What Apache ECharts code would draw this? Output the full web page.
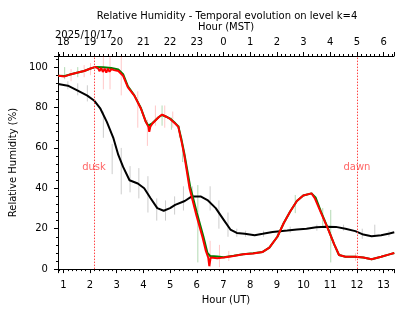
<!DOCTYPE html>
<html>
<head>
<meta charset="utf-8">
<script src="https://cdn.jsdelivr.net/npm/echarts@6/dist/echarts.min.js"></script>
<style>
  html, body { margin: 0; padding: 0; background: #fff; }
  #chart { width: 397px; height: 310px; }
</style>
</head>
<body>
<div id="chart"></div>
<script>
// hour (UT) -> MST tick labels for the top axis (UT 1..13)
var mstLabels = ['18', '19', '20', '21', '22', '23', '0', '1', '2', '3', '4', '5', '6']
var dateLabel = '2025/10/17'
var duskHour = 2.15
var dawnHour = 12.0

// black curve [hour UT, RH %]
var blackPts = [
  [0.81, 91.6], [1.17, 90.8], [1.54, 88.4], [1.9, 85.9], [2.15, 83.5], [2.39, 79.4],
  [2.63, 72.9], [2.88, 64.7], [3.06, 56.5], [3.24, 50.6], [3.48, 44.0], [3.79, 42.4],
  [4.03, 40.0], [4.27, 35.1], [4.52, 30.2], [4.76, 28.9], [5.0, 30.2], [5.19, 31.8],
  [5.55, 33.7], [5.8, 35.9], [6.16, 35.9], [6.4, 34.2], [6.71, 30.2], [7.01, 24.4],
  [7.26, 19.6], [7.5, 17.9], [7.8, 17.5], [8.17, 16.8], [8.47, 17.5], [8.84, 18.4],
  [9.39, 19.1], [9.75, 19.6], [10.11, 20.0], [10.48, 20.7], [10.84, 21.0], [11.21, 20.9],
  [11.57, 20.0], [11.94, 18.8], [12.24, 17.1], [12.55, 16.3], [12.91, 16.8], [13.22, 17.6],
  [13.4, 18.2]
]
// green curve
var greenPts = [
  [0.81, 95.7], [1.05, 95.6], [1.29, 96.5], [1.54, 97.3], [1.78, 98.1], [2.02, 99.3],
  [2.2, 100.0], [2.5, 99.9], [2.8, 99.6], [3.06, 98.8], [3.24, 96.5], [3.42, 90.5],
  [3.66, 86.0], [3.91, 79.6], [4.09, 73.0], [4.19, 71.0], [4.34, 72.3], [4.58, 75.3],
  [4.7, 76.3], [4.88, 75.3], [5.0, 74.5], [5.19, 72.3], [5.31, 70.6], [5.43, 64.0],
  [5.53, 57.5], [5.75, 41.0], [6.0, 28.0], [6.25, 16.0], [6.4, 8.0], [6.5, 6.5],
  [6.77, 6.2], [7.01, 5.9], [7.38, 6.6], [7.74, 7.3], [8.11, 7.8], [8.47, 8.5],
  [8.72, 10.6], [9.02, 16.0], [9.26, 22.8], [9.5, 28.5], [9.75, 33.7], [9.99, 36.4],
  [10.3, 37.5], [10.45, 35.5], [10.66, 28.2], [10.9, 20.6], [11.15, 12.2], [11.33, 7.0],
  [11.57, 6.1], [11.94, 6.1], [12.24, 5.7], [12.55, 4.9], [12.91, 6.1], [13.22, 7.3],
  [13.4, 8.0]
]
// red curve
var redPts = [
  [0.81, 95.7], [1.05, 95.4], [1.29, 96.5], [1.54, 97.3], [1.78, 98.1], [2.02, 99.3],
  [2.2, 100.1], [2.3, 99.4], [2.36, 98.0], [2.42, 99.6], [2.48, 97.6], [2.55, 99.2],
  [2.61, 97.3], [2.67, 99.3], [2.73, 97.7], [2.8, 99.0], [2.9, 98.5], [3.06, 98.1],
  [3.24, 95.7], [3.42, 90.0], [3.66, 85.9], [3.91, 79.4], [4.09, 72.9], [4.19, 70.4],
  [4.22, 68.0], [4.26, 70.5], [4.34, 72.1], [4.58, 75.3], [4.7, 76.5], [4.88, 75.3],
  [5.0, 74.3], [5.19, 72.1], [5.31, 70.4], [5.43, 63.1], [5.53, 56.6], [5.73, 40.0],
  [5.98, 26.9], [6.22, 15.5], [6.34, 9.0], [6.43, 5.7], [6.47, 1.5], [6.52, 5.7],
  [6.77, 5.4], [7.01, 5.7], [7.38, 6.5], [7.74, 7.3], [8.11, 7.7], [8.47, 8.5],
  [8.72, 10.6], [9.02, 16.0], [9.26, 22.8], [9.5, 28.5], [9.75, 33.7], [9.99, 36.4],
  [10.3, 37.5], [10.42, 35.1], [10.66, 27.7], [10.9, 20.4], [11.15, 12.2], [11.33, 7.0],
  [11.57, 6.1], [11.94, 6.1], [12.24, 5.7], [12.55, 4.9], [12.91, 6.1], [13.22, 7.3],
  [13.4, 8.0]
]
// error bars [hour, low, high]
var greyBars = [
  [1.17, 89, 93], [1.54, 86, 92], [1.9, 83, 91], [2.5, 65, 78], [2.83, 47, 62],
  [3.17, 37, 60], [3.5, 38, 51], [3.83, 35, 50], [4.17, 28, 46], [4.5, 24, 35],
  [4.83, 24, 34], [5.17, 27, 36], [5.5, 29, 41], [5.83, 34, 41], [6.5, 29, 41],
  [6.83, 20, 34], [7.17, 16, 28], [7.5, 16, 20], [7.83, 16, 19], [8.5, 16, 19],
  [9.5, 18, 21], [10.5, 19, 22], [11.5, 19, 22], [12.2, 15, 20], [12.67, 16, 22],
  [13.2, 16, 19]
]
var redBars = [
  [1.29, 93, 99], [1.78, 95, 101], [2.02, 96, 102], [2.5, 89, 106], [2.75, 89, 106],
  [3.17, 86, 106], [3.79, 70, 88], [4.15, 61, 74], [4.45, 71, 81], [4.8, 70, 81],
  [5.1, 70, 78], [6.5, 1, 14], [6.85, 1, 12], [7.2, 4, 9], [11.95, 4, 8]
]
var greenBars = [
  [1.05, 94, 100], [1.54, 95, 100], [4.7, 71, 81], [5.05, 69, 75], [5.35, 65, 71],
  [5.47, 53, 60], [6.04, 3.3, 41.6], [9.69, 27.7, 36.7], [10.72, 20.4, 30.2], [11.02, 3.3, 29.3]
]

var font = 'DejaVu Sans'

function errBars(data, color) {
  return {
    type: 'custom',
    clip: true,
    silent: true,
    data: data,
    encode: { x: 0, y: [1, 2] },
    renderItem: function(params, api) {
      var a = api.coord([api.value(0), api.value(1)])
      var b = api.coord([api.value(0), api.value(2)])
      return {
        type: 'line',
        shape: { x1: a[0], y1: a[1], x2: b[0], y2: b[1] },
        style: { stroke: color, lineWidth: 1 }
      }
    }
  }
}

function curve(data, color) {
  return {
    type: 'line',
    data: data,
    showSymbol: false,
    clip: true,
    lineStyle: { color: color, width: 2 },
    itemStyle: { color: color },
    animation: false
  }
}

var chart = echarts.init(document.getElementById('chart'))
var xCommon = {
  type: 'value',
  min: 0.8,
  max: 13.39,
  splitNumber: 12,
  splitLine: { show: false },
  axisLine: { show: true, onZero: false, lineStyle: { color: '#000', width: 1 } },
  axisTick: { show: true, length: 4, lineStyle: { color: '#000' } },
  minorTick: { show: true, splitNumber: 6, length: 2, lineStyle: { color: '#000' } },
  nameLocation: 'middle',
  nameTextStyle: { fontSize: 10, color: '#000', fontFamily: font }
}
var option = {
  animation: false,
  title: {
    text: 'Relative Humidity - Temporal evolution on level k=4',
    left: 227,
    textAlign: 'center',
    top: 11,
    padding: 0,
    textStyle: { fontSize: 10, fontWeight: 'normal', color: '#000', fontFamily: font }
  },
  graphic: [{
    type: 'text',
    left: 55,
    top: 30,
    style: { text: dateLabel, fontSize: 10, fill: '#000', fontFamily: font }
  }],
  grid: { left: 55, top: 56, width: 345, height: 215.7 },
  xAxis: [
    Object.assign({}, xCommon, {
      position: 'bottom',
      name: 'Hour (UT)',
      nameGap: 22,
      axisLabel: {
        fontSize: 10, color: '#000', fontFamily: font, margin: 11,
        formatter: function(v) { return Number.isInteger(v) ? String(v) : '' }
      }
    }),
    Object.assign({}, xCommon, {
      position: 'top',
      name: 'Hour (MST)',
      nameGap: 19,
      axisLabel: {
        fontSize: 10, color: '#000', fontFamily: font, margin: 9,
        formatter: function(v) { return Number.isInteger(v) ? (mstLabels[v - 1] || '') : '' }
      }
    })
  ],
  yAxis: {
    type: 'value',
    min: 0,
    max: 105.5,
    interval: 20,
    name: 'Relative Humidity (%)',
    nameLocation: 'middle',
    nameGap: 32,
    nameTextStyle: { fontSize: 10, color: '#000', fontFamily: font },
    splitLine: { show: false },
    axisLine: { show: true, lineStyle: { color: '#000', width: 1 } },
    axisTick: { show: true, length: 4, lineStyle: { color: '#000' } },
    minorTick: { show: true, splitNumber: 5, length: 2, lineStyle: { color: '#000' } },
    axisLabel: {
      fontSize: 10, color: '#000', fontFamily: font, margin: 10,
      formatter: function(v) { return v % 20 === 0 ? String(v) : '' }
    }
  },
  series: [
    errBars(greyBars, 'rgba(0,0,0,0.2)'),
    errBars(greenBars, 'rgba(0,128,0,0.3)'),
    errBars(redBars, 'rgba(255,0,0,0.22)'),
    curve(blackPts, '#000'),
    curve(greenPts, '#008000'),
    curve(redPts, '#ff0000'),
    {
      type: 'scatter',
      symbolSize: 0,
      silent: true,
      itemStyle: { color: '#ff0000' },
      data: [[duskHour, 50.2, 'dusk'], [dawnHour, 50.2, 'dawn']],
      label: {
        show: true,
        position: 'inside',
        formatter: function(p) { return p.value[2] },
        fontSize: 10,
        color: 'rgba(255,40,40,0.9)',
        fontFamily: font
      },
      markLine: {
        silent: true,
        symbol: 'none',
        label: { show: false },
        emphasis: { disabled: true },
        lineStyle: { color: '#ff3030', opacity: 0.9, type: [1.5, 1.5], width: 1 },
        data: [
          { xAxis: duskHour, lineStyle: { color: '#ff3030' } },
          { xAxis: dawnHour, lineStyle: { color: '#ff3030' } }
        ]
      }
    }
  ]
}
chart.setOption(option)
</script>
</body>
</html>
